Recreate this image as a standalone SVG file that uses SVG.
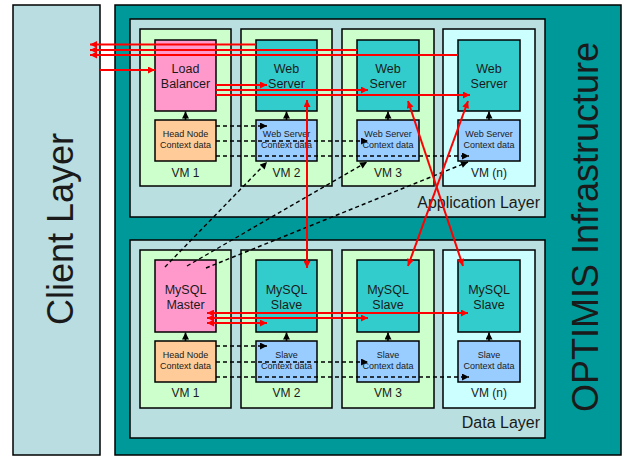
<svg xmlns="http://www.w3.org/2000/svg" width="624" height="456" viewBox="0 0 624 456">
<style>
text{font-family:"Liberation Sans",Arial,sans-serif;fill:#1a1a1a}
.bd{stroke:#000;stroke-width:1.5}
.cl{fill:#b9dde1}
.inf{fill:#009999}
.lay{fill:#b9dfe1}
.vm{fill:#ccffcc}
.vmn{fill:#ccffff}
.pk{fill:#ff99cc}
.ws{fill:#33cccc}
.hc{fill:#ffcc99}
.sc{fill:#99ccff}
.big{font-size:36px}
.lbl{font-size:12.5px;text-anchor:middle}
.sm{font-size:9px;text-anchor:middle}
.vml{font-size:12px;text-anchor:middle}
.ll{font-size:16px;text-anchor:end}
.red{stroke:#ff0000;stroke-width:2;fill:none}
.blk{stroke:#000;stroke-width:1.6;fill:none}
.dsh{stroke:#000;stroke-width:1.4;fill:none;stroke-dasharray:4 3}
</style>
<defs>
<marker id="ar" viewBox="0 0 10 10" refX="10" refY="5" markerWidth="9" markerHeight="7" markerUnits="userSpaceOnUse" orient="auto-start-reverse"><path d="M0,0 L10,5 L0,10 z" fill="#ff0000"/></marker>
<marker id="ab" viewBox="0 0 10 10" refX="10" refY="5" markerWidth="8" markerHeight="7" markerUnits="userSpaceOnUse" orient="auto-start-reverse"><path d="M0,0 L10,5 L0,10 z" fill="#000"/></marker>
</defs>

<g id="client-layer">
<rect x="13" y="5" width="87" height="450" class="cl bd"/>
<text class="big" transform="translate(73,229) rotate(-90)" text-anchor="middle">Client Layer</text>
</g>

<g id="optimis-infrastructure">
<rect x="115" y="5" width="506" height="450" class="inf bd"/>
<text class="big" transform="translate(598,227) rotate(-90)" text-anchor="middle">OPTIMIS Infrastructure</text>
</g>

<g id="application-layer">
<rect x="130" y="19" width="415" height="198" class="lay bd"/>
<text class="ll" x="540" y="208">Application Layer</text>
</g>

<g id="data-layer">
<rect x="130" y="240" width="415" height="198" class="lay bd"/>
<text class="ll" x="540" y="428">Data Layer</text>
</g>

<!-- Application layer VMs -->
<g id="app-vm1">
<rect x="140" y="29" width="91" height="157" class="vm bd"/>
<text class="vml" x="185.5" y="177">VM 1</text>
</g>
<g id="app-vm2">
<rect x="241" y="29" width="91" height="157" class="vm bd"/>
<text class="vml" x="286.5" y="177">VM 2</text>
</g>
<g id="app-vm3">
<rect x="342" y="29" width="92" height="157" class="vm bd"/>
<text class="vml" x="388" y="177">VM 3</text>
</g>
<g id="app-vmn">
<rect x="443" y="29" width="92" height="157" class="vmn bd"/>
<text class="vml" x="489" y="177">VM (n)</text>
</g>

<g id="load-balancer">
<rect x="155" y="40" width="61" height="71" class="pk bd"/>
<text class="lbl" x="185.5" y="73">Load</text>
<text class="lbl" x="185.5" y="88">Balancer</text>
</g>
<g id="web-server-2">
<rect x="256" y="40" width="61" height="71" class="ws bd"/>
<text class="lbl" x="286.5" y="73">Web</text>
<text class="lbl" x="286.5" y="88">Server</text>
</g>
<g id="web-server-3">
<rect x="357" y="40" width="62" height="71" class="ws bd"/>
<text class="lbl" x="388" y="73">Web</text>
<text class="lbl" x="388" y="88">Server</text>
</g>
<g id="web-server-n">
<rect x="458" y="40" width="62" height="71" class="ws bd"/>
<text class="lbl" x="489" y="73">Web</text>
<text class="lbl" x="489" y="88">Server</text>
</g>

<g id="app-head-context">
<rect x="155" y="120" width="61" height="41" class="hc bd"/>
<text class="sm" x="185.5" y="137">Head Node</text>
<text class="sm" x="185.5" y="148">Context data</text>
</g>
<g id="ws-context-2">
<rect x="256" y="120" width="61" height="41" class="sc bd"/>
<text class="sm" x="286.5" y="137">Web Server</text>
<text class="sm" x="286.5" y="148">Context data</text>
</g>
<g id="ws-context-3">
<rect x="357" y="120" width="62" height="41" class="sc bd"/>
<text class="sm" x="388" y="137">Web Server</text>
<text class="sm" x="388" y="148">Context data</text>
</g>
<g id="ws-context-n">
<rect x="458" y="120" width="62" height="41" class="sc bd"/>
<text class="sm" x="489" y="137">Web Server</text>
<text class="sm" x="489" y="148">Context data</text>
</g>

<!-- Data layer VMs -->
<g id="data-vm1">
<rect x="140" y="250" width="91" height="158" class="vm bd"/>
<text class="vml" x="185.5" y="397">VM 1</text>
</g>
<g id="data-vm2">
<rect x="241" y="250" width="91" height="158" class="vm bd"/>
<text class="vml" x="286.5" y="397">VM 2</text>
</g>
<g id="data-vm3">
<rect x="342" y="250" width="92" height="158" class="vm bd"/>
<text class="vml" x="388" y="397">VM 3</text>
</g>
<g id="data-vmn">
<rect x="443" y="250" width="92" height="158" class="vmn bd"/>
<text class="vml" x="489" y="397">VM (n)</text>
</g>

<g id="mysql-master">
<rect x="155" y="260" width="61" height="72" class="pk bd"/>
<text class="lbl" x="185.5" y="294">MySQL</text>
<text class="lbl" x="185.5" y="309">Master</text>
</g>
<g id="mysql-slave-2">
<rect x="256" y="260" width="61" height="72" class="ws bd"/>
<text class="lbl" x="286.5" y="294">MySQL</text>
<text class="lbl" x="286.5" y="309">Slave</text>
</g>
<g id="mysql-slave-3">
<rect x="357" y="260" width="62" height="72" class="ws bd"/>
<text class="lbl" x="388" y="294">MySQL</text>
<text class="lbl" x="388" y="309">Slave</text>
</g>
<g id="mysql-slave-n">
<rect x="458" y="260" width="62" height="72" class="ws bd"/>
<text class="lbl" x="489" y="294">MySQL</text>
<text class="lbl" x="489" y="309">Slave</text>
</g>

<g id="data-head-context">
<rect x="155" y="341" width="61" height="41" class="hc bd"/>
<text class="sm" x="185.5" y="358">Head Node</text>
<text class="sm" x="185.5" y="369">Context data</text>
</g>
<g id="slave-context-2">
<rect x="256" y="341" width="61" height="41" class="sc bd"/>
<text class="sm" x="286.5" y="358">Slave</text>
<text class="sm" x="286.5" y="369">Context data</text>
</g>
<g id="slave-context-3">
<rect x="357" y="341" width="62" height="41" class="sc bd"/>
<text class="sm" x="388" y="358">Slave</text>
<text class="sm" x="388" y="369">Context data</text>
</g>
<g id="slave-context-n">
<rect x="458" y="341" width="62" height="41" class="sc bd"/>
<text class="sm" x="489" y="358">Slave</text>
<text class="sm" x="489" y="369">Context data</text>
</g>

<g id="connectors">
<!-- context to service, solid black -->
<line class="blk" x1="185.5" y1="120" x2="185.5" y2="111.5" marker-end="url(#ab)"/>
<line class="blk" x1="286.5" y1="120" x2="286.5" y2="111.5" marker-end="url(#ab)"/>
<line class="blk" x1="388" y1="120" x2="388" y2="111.5" marker-end="url(#ab)"/>
<line class="blk" x1="489" y1="120" x2="489" y2="111.5" marker-end="url(#ab)"/>
<line class="blk" x1="185.5" y1="341" x2="185.5" y2="332.5" marker-end="url(#ab)"/>
<line class="blk" x1="286.5" y1="341" x2="286.5" y2="332.5" marker-end="url(#ab)"/>
<line class="blk" x1="388" y1="341" x2="388" y2="332.5" marker-end="url(#ab)"/>
<line class="blk" x1="489" y1="341" x2="489" y2="332.5" marker-end="url(#ab)"/>

<!-- dashed head node context to contexts -->
<line class="dsh" x1="216" y1="126" x2="267" y2="126" marker-end="url(#ab)"/>
<line class="dsh" x1="216" y1="141" x2="368" y2="141" marker-end="url(#ab)"/>
<line class="dsh" x1="216" y1="156" x2="469" y2="156" marker-end="url(#ab)"/>
<line class="dsh" x1="216" y1="346" x2="267" y2="346" marker-end="url(#ab)"/>
<line class="dsh" x1="216" y1="362" x2="368" y2="362" marker-end="url(#ab)"/>
<line class="dsh" x1="216" y1="377" x2="469" y2="377" marker-end="url(#ab)"/>

<!-- dashed master to app contexts -->
<line class="dsh" x1="165" y1="267" x2="267" y2="162" marker-end="url(#ab)"/>
<line class="dsh" x1="187" y1="266" x2="367" y2="162" marker-end="url(#ab)"/>
<line class="dsh" x1="206" y1="268" x2="468" y2="162" marker-end="url(#ab)"/>

<!-- client to load balancer -->
<line class="red" x1="100" y1="70" x2="155" y2="70" marker-end="url(#ar)"/>
<!-- web servers to client -->
<line class="red" x1="256" y1="44.5" x2="90" y2="44.5" marker-end="url(#ar)"/>
<line class="red" x1="357" y1="50" x2="90" y2="50" marker-end="url(#ar)"/>
<line class="red" x1="458" y1="55" x2="90" y2="55" marker-end="url(#ar)"/>
<!-- load balancer to web servers -->
<line class="red" x1="216" y1="85" x2="267" y2="85" marker-end="url(#ar)"/>
<line class="red" x1="216" y1="90" x2="368" y2="90" marker-end="url(#ar)"/>
<line class="red" x1="216" y1="95" x2="470" y2="95" marker-end="url(#ar)"/>
<!-- web servers to mysql -->
<line class="red" x1="307" y1="100" x2="307" y2="268" marker-start="url(#ar)" marker-end="url(#ar)"/>
<line class="red" x1="408" y1="101" x2="463" y2="266" marker-start="url(#ar)" marker-end="url(#ar)"/>
<line class="red" x1="468" y1="101" x2="408" y2="266" marker-start="url(#ar)" marker-end="url(#ar)"/>
<!-- master to slaves -->
<line class="red" x1="207" y1="313" x2="468" y2="313" marker-start="url(#ar)" marker-end="url(#ar)"/>
<line class="red" x1="207" y1="318" x2="368" y2="318" marker-start="url(#ar)" marker-end="url(#ar)"/>
<line class="red" x1="207" y1="323" x2="267" y2="323" marker-start="url(#ar)" marker-end="url(#ar)"/>
</g>
</svg>
